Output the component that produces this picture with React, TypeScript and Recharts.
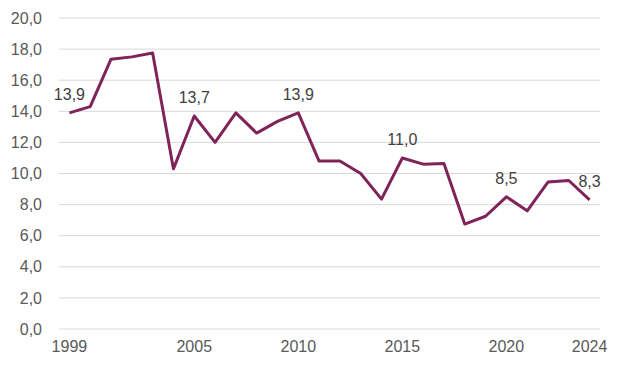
import React from "react";
import { LineChart, Line, XAxis, YAxis, CartesianGrid, LabelList } from "recharts";

const years = [1999, 2000, 2001, 2002, 2003, 2004, 2005, 2006, 2007, 2008, 2009, 2010, 2011, 2012, 2013, 2014, 2015, 2016, 2017, 2018, 2019, 2020, 2021, 2022, 2023, 2024];
const values = [13.9, 14.3, 17.35, 17.5, 17.75, 10.3, 13.7, 12.0, 13.9, 12.6, 13.35, 13.9, 10.8, 10.8, 10.0, 8.35, 11.0, 10.6, 10.65, 6.75, 7.25, 8.5, 7.6, 9.45, 9.55, 8.3];
const labeledYears = [1999, 2005, 2010, 2015, 2020, 2024];
const xTicks = [1999, 2005, 2010, 2015, 2020, 2024];
const yTicks = [0, 2, 4, 6, 8, 10, 12, 14, 16, 18, 20];

const data = years.map((y, i) => ({
  year: y,
  value: values[i],
  label: labeledYears.includes(y) ? values[i] : null,
}));

const fmt = (v: number) => v.toFixed(1).replace(".", ",");
const FONT = "'Liberation Sans', Arial, sans-serif";

const renderLabel = (props: any) => {
  const { x, y, value } = props;
  if (value === null || value === undefined) return null;
  return (
    <text x={x} y={y - 13} textAnchor="middle" fill="#404040" fontSize={16} fontFamily={FONT}>
      {fmt(value)}
    </text>
  );
};

export default function App() {
  return (
    <LineChart width={613} height={365} data={data} margin={{ top: 10, right: 21, bottom: 6, left: 0 }}>
      <CartesianGrid horizontal vertical={false} stroke="#d9d9d9" strokeWidth={1} />
      <XAxis
        dataKey="year"
        type="category"
        padding={{ left: 10.4, right: 10.4 }}
        ticks={xTicks}
        axisLine={false}
        tickLine={false}
        tickSize={0}
        tickMargin={12}
        height={38}
        interval={0}
        tick={{ fill: "#595959", fontSize: 16, fontFamily: FONT }}
      />
      <YAxis
        type="number"
        domain={[0, 20]}
        ticks={yTicks}
        width={51}
        axisLine={false}
        tickLine={false}
        tickSize={0}
        tickMargin={17}
        tickFormatter={fmt}
        tick={{ fill: "#595959", fontSize: 16, fontFamily: FONT }}
        interval={0}
      />
      <Line
        type="linear"
        dataKey="value"
        stroke="#7F2458"
        strokeWidth={3}
        dot={false}
        isAnimationActive={false}
        strokeLinejoin="round"
      >
        <LabelList dataKey="label" content={renderLabel} />
      </Line>
    </LineChart>
  );
}
